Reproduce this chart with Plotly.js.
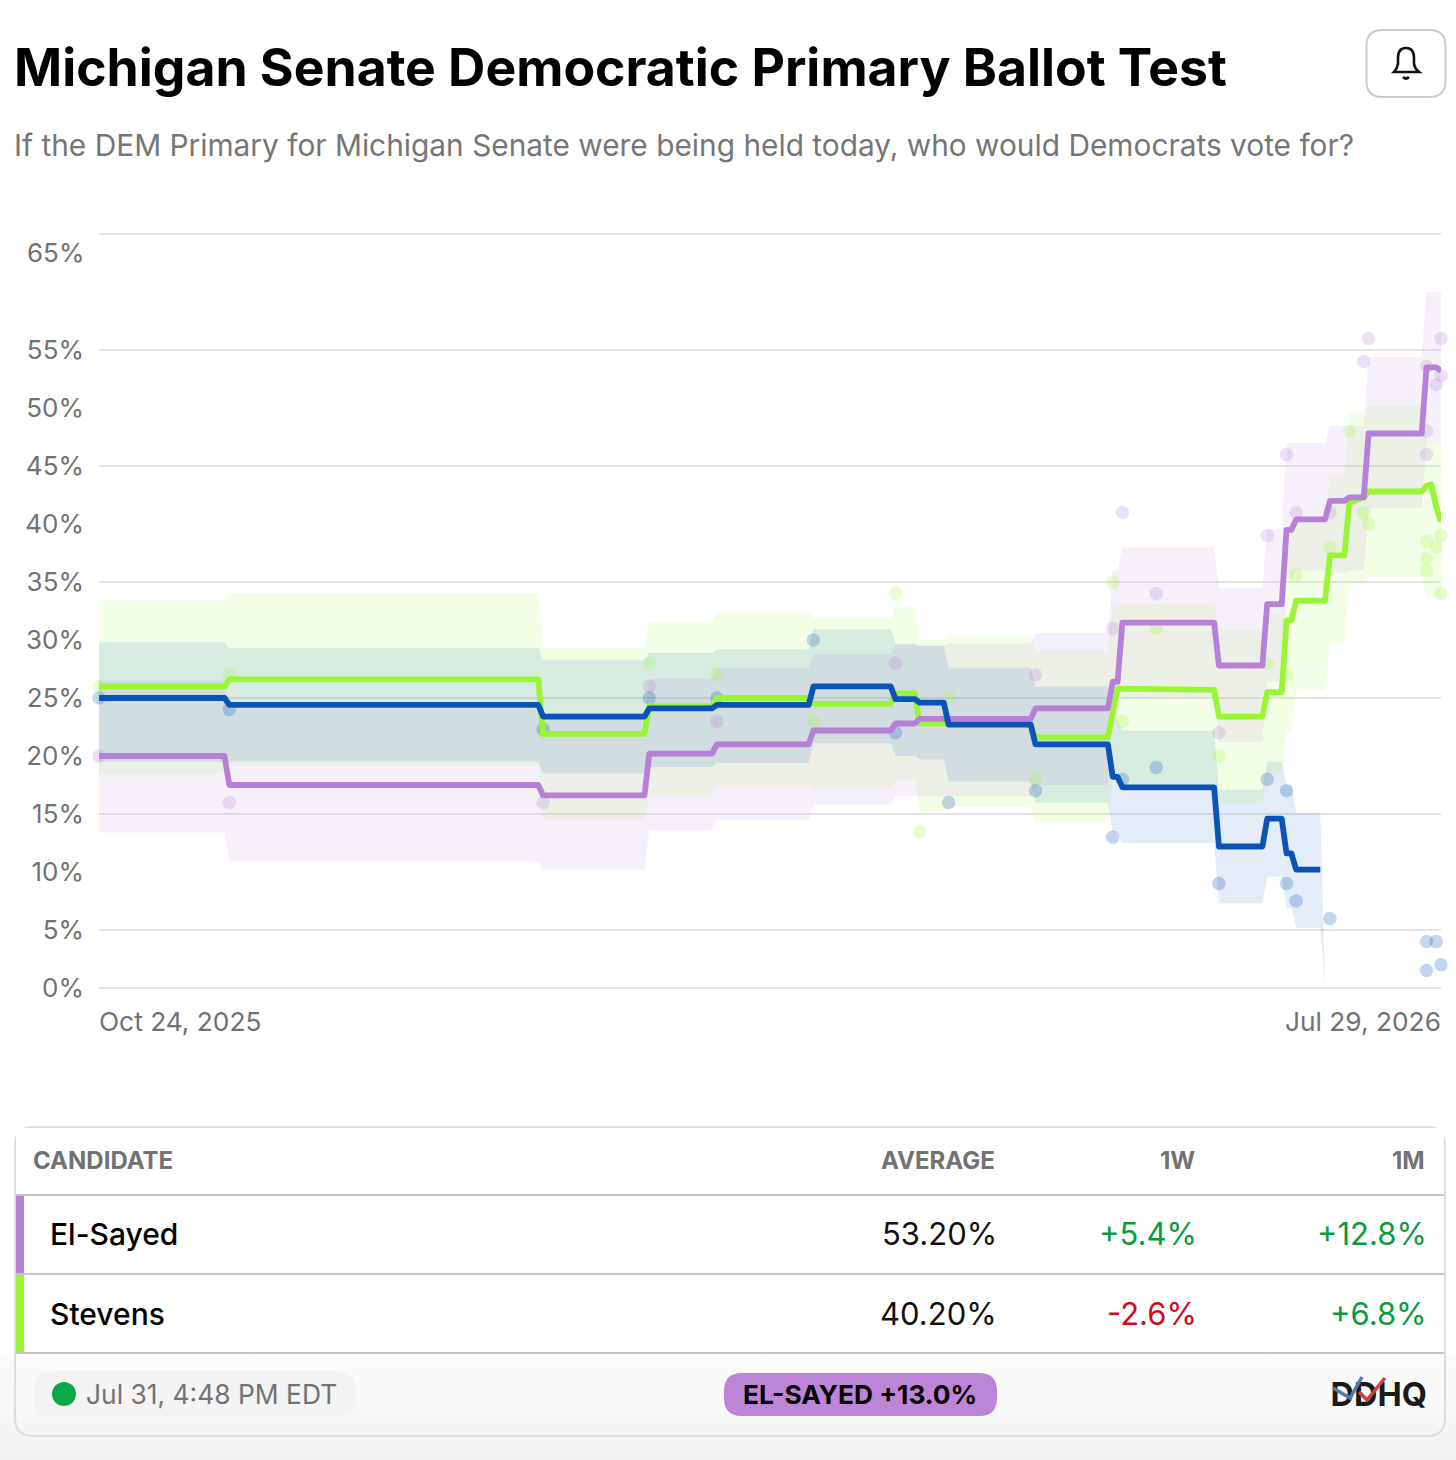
<!DOCTYPE html>
<html>
<head>
<meta charset="utf-8">
<script src="https://cdn.plot.ly/plotly-3.0.1.min.js"></script>
<style>
html, body { margin: 0; padding: 0; }
body { width: 1456px; height: 1460px; overflow: hidden; background: linear-gradient(#fff 1350px, #fbfbfb 1360px, #f8f8f8 1415px, #f0f0f0 1460px); }
#chart { width: 1456px; height: 1460px; }
.js-line { stroke-linejoin: round; }
svg text { font-variant-numeric: tabular-nums; }
</style>
</head>
<body>
<div id="chart"></div>
<script>
var W = 1456, H = 1460;
var FONT = 'Inter, "Noto Sans", sans-serif';

var purple = '#b580d6', green = '#99f536', blue = '#0a54b8';

// average lines
var stevensDates = ['2025-10-24','2025-11-19','2025-11-20','2026-01-23','2026-01-24','2026-02-14','2026-02-15','2026-02-28','2026-03-01','2026-03-20','2026-03-21','2026-04-06','2026-04-07','2026-04-11','2026-04-12','2026-05-05','2026-05-06','2026-05-21','2026-05-23','2026-06-12','2026-06-13','2026-06-22','2026-06-23','2026-06-26','2026-06-27','2026-06-28','2026-06-29','2026-07-05','2026-07-06','2026-07-09','2026-07-10','2026-07-13','2026-07-14','2026-07-25','2026-07-26','2026-07-27','2026-07-28','2026-07-29'];
var stevensAvg = [26,26,26.6,26.6,21.9,21.9,24.3,24.3,25,25,24.5,24.5,25.4,25.4,22.8,22.8,21.6,21.6,25.8,25.7,23.4,23.4,25.5,25.5,31.7,31.7,33.4,33.4,37.3,37.3,41.8,42.3,42.8,42.8,43.3,43.4,41.5,40.2];

var elSayedDates = ['2025-10-24','2025-11-19','2025-11-20','2026-01-23','2026-01-24','2026-02-14','2026-02-15','2026-02-28','2026-03-01','2026-03-20','2026-03-21','2026-04-06','2026-04-07','2026-04-11','2026-04-12','2026-05-05','2026-05-06','2026-05-21','2026-05-22','2026-05-23','2026-05-24','2026-06-12','2026-06-13','2026-06-22','2026-06-23','2026-06-26','2026-06-27','2026-06-28','2026-06-29','2026-07-05','2026-07-06','2026-07-09','2026-07-10','2026-07-13','2026-07-14','2026-07-25','2026-07-26','2026-07-28','2026-07-29'];
var elSayedAvg = [20,20,17.5,17.5,16.6,16.6,20.2,20.2,21,21,22.2,22.2,22.8,22.8,23.2,23.2,24.1,24.1,26.4,26.4,31.5,31.5,27.8,27.8,33.1,33.1,39.5,39.5,40.4,40.4,42,42,42.3,42.3,47.8,47.8,53.5,53.5,53.2];

var blueDates = ['2025-10-24','2025-11-19','2025-11-20','2026-01-23','2026-01-24','2026-02-14','2026-02-15','2026-02-28','2026-03-01','2026-03-20','2026-03-21','2026-04-06','2026-04-07','2026-04-11','2026-04-12','2026-04-17','2026-04-18','2026-05-05','2026-05-06','2026-05-21','2026-05-22','2026-05-23','2026-05-24','2026-06-12','2026-06-13','2026-06-22','2026-06-23','2026-06-26','2026-06-27','2026-06-28','2026-06-29','2026-07-04'];
var blueAvg = [25,25,24.4,24.4,23.4,23.4,24.1,24.1,24.4,24.4,26,26,24.9,24.9,24.6,24.6,22.7,22.7,21,21,18.2,18.2,17.3,17.3,12.2,12.2,14.6,14.6,11.6,11.6,10.2,10.2];

// shaded ranges, one value per segment
var segStart = ['2025-10-24','2025-11-20','2026-01-24','2026-02-15','2026-03-01','2026-03-21','2026-04-07','2026-04-12','2026-04-18','2026-05-06','2026-05-22','2026-05-24','2026-06-13','2026-06-23','2026-06-27','2026-06-29','2026-07-05','2026-07-06','2026-07-10','2026-07-14','2026-07-26'];
var segEnd = ['2025-11-19','2026-01-23','2026-02-14','2026-02-28','2026-03-20','2026-04-06','2026-04-11','2026-04-17','2026-05-05','2026-05-21','2026-05-23','2026-06-12','2026-06-22','2026-06-26','2026-06-28','2026-07-04','2026-07-05','2026-07-09','2026-07-13','2026-07-25','2026-07-29'];
var stevensHigh = [33.4,34.05,29.3,31.55,32.4,31.9,32.9,30,30.4,29.1,33,33.1,30.9,32.3,39.7,40.3,40.3,44.1,49.6,50.2,47];
var stevensLow = [18.5,19.2,14.5,16.6,17.5,17.2,17.9,15.2,15.6,14.3,18,17.1,15.9,18.5,22.2,25.7,25.7,29.7,34.9,35.4,33.7];
var elSayedHigh = [26.5,24.1,23.7,26.7,27.6,28.8,29.6,29.5,29.7,30.6,36,38,34.5,39.6,47,47,47,48.5,48.5,54.4,60];
var elSayedLow = [13.4,10.9,10.2,13.6,14.5,15.8,16.5,16.5,16.5,17.5,26,25,21.2,26.4,35.2,36,36,35.8,36,41.4,47];
var blueHigh = [29.8,29.3,28.3,28.9,29.2,30.9,29.7,29.5,27.6,26,23.1,22.2,17.1,19.5,17.5,15.1,0];
var blueLow = [19.5,19.5,18.5,19.05,19.4,21.1,20,19.7,17.8,16,13.4,12.5,7.3,9.6,6.9,5.2,0];

// individual polls
var stevensPollDates = ['2025-10-24','2025-11-20','2026-01-24','2026-02-15','2026-03-01','2026-03-21','2026-04-07','2026-04-12','2026-04-18','2026-05-06','2026-05-22','2026-05-24','2026-05-31','2026-06-13','2026-06-23','2026-06-27','2026-06-29','2026-07-06','2026-07-10','2026-07-13','2026-07-14','2026-07-26','2026-07-26','2026-07-26','2026-07-28','2026-07-29','2026-07-29'];
var stevensPolls = [26,27,22,28,27,23,34,13.5,25,18,35,23,31,20,28,27,35.6,38,48,41,40,38.5,37,36,38,39,34];
var elSayedPollDates = ['2025-10-24','2025-11-20','2026-01-24','2026-02-15','2026-03-01','2026-04-07','2026-05-06','2026-05-22','2026-05-24','2026-05-31','2026-06-13','2026-06-23','2026-06-27','2026-06-29','2026-07-06','2026-07-13','2026-07-14','2026-07-26','2026-07-26','2026-07-26','2026-07-28','2026-07-29','2026-07-29'];
var elSayedPolls = [20,16,16,26,23,28,27,31,41,34,22,39,46,41,41,54,56,53.6,48,46,52,56,52.8];
var bluePollDates = ['2025-10-24','2025-11-20','2026-01-24','2026-02-15','2026-03-01','2026-03-21','2026-04-07','2026-04-18','2026-05-06','2026-05-22','2026-05-24','2026-05-31','2026-06-13','2026-06-23','2026-06-27','2026-06-27','2026-06-29','2026-07-06','2026-07-26','2026-07-28','2026-07-26','2026-07-29'];
var bluePolls = [25,24,22.3,25,25,30,22,16,17,13,18,19,9,18,17,9,7.5,6,4,4,1.5,2];

// axes
var yTickVals = [0,5,10,15,20,25,30,35,40,45,50,55];
var yTickText = ['0%','5%','10%','15%','20%','25%','30%','35%','40%','45%','50%','55%'];
var gridVals = [0,5,15,25,35,45,55,65];
var xStart = '2025-10-24', xEnd = '2026-07-29';

// table
var candidates = ['El-Sayed','Stevens'];
var averages = ['53.20%','40.20%'];
var oneWeek = ['+5.4%','-2.6%'];
var oneMonth = ['+12.8%','+6.8%'];
var rowColors = [purple, green];

function px(x) { return x / W; }
function py(y) { return 1 - y / H; }

function band(hi, lo, color) {
  var xs = [], top = [], bottom = [];
  for (var i = 0; i < hi.length; i++) {
    xs.push(segStart[i], segEnd[i]);
    top.push(hi[i], hi[i]);
    bottom.push(lo[i], lo[i]);
  }
  return {
    x: xs.concat(xs.slice().reverse()),
    y: top.concat(bottom.reverse()),
    type: 'scatter', mode: 'lines', fill: 'toself', fillcolor: color,
    line: {width: 0}, hoverinfo: 'skip', showlegend: false
  };
}
function polls(x, y, color) {
  return {x: x, y: y, type: 'scatter', mode: 'markers', cliponaxis: false,
    marker: {size: 13.5, color: color, opacity: 0.24, line: {width: 0}}, showlegend: false};
}
function avgLine(x, y, color) {
  return {x: x, y: y, type: 'scatter', mode: 'lines', cliponaxis: false,
    line: {color: color, width: 5.8}, showlegend: false};
}

var data = [
  band(stevensHigh, stevensLow, 'rgba(153,245,54,0.12)'),
  band(elSayedHigh, elSayedLow, 'rgba(181,128,214,0.12)'),
  band(blueHigh, blueLow, 'rgba(10,84,184,0.115)'),
  polls(stevensPollDates, stevensPolls, green),
  polls(elSayedPollDates, elSayedPolls, purple),
  polls(bluePollDates, bluePolls, blue),
  avgLine(stevensDates, stevensAvg, green),
  avgLine(elSayedDates, elSayedAvg, purple),
  avgLine(blueDates, blueAvg, blue),
  // logo wordmark sits in a hidden page-sized subplot so the check marks can go over it
  {x: [1427], y: [1398], xaxis: 'x2', yaxis: 'y2', type: 'scatter', mode: 'text', text: ['DDHQ'],
    textposition: 'middle left', cliponaxis: false, showlegend: false,
    textfont: {family: FONT, size: 32.5, color: '#1a1a1a', weight: 700}}
];

function label(text, x, y, size, color, anchor, weight) {
  return {text: text, x: px(x), y: py(y), xref: 'paper', yref: 'paper', showarrow: false,
    xanchor: anchor || 'left', yanchor: 'middle', borderpad: 0, borderwidth: 0,
    font: {family: FONT, size: size, color: color, weight: weight || 400}};
}
function rect(x0, y0, x1, y1, color) {
  return {type: 'rect', xref: 'paper', yref: 'paper', x0: px(x0), x1: px(x1), y0: py(y0), y1: py(y1),
    fillcolor: color, line: {width: 0}, layer: 'below'};
}
function hline(x0, x1, y, color, width) {
  return {type: 'line', xref: 'paper', yref: 'paper', x0: px(x0), x1: px(x1), y0: py(y), y1: py(y),
    line: {color: color, width: width}, layer: 'below'};
}
function pts(list) {
  var s = '';
  list.forEach(function (p) {
    s += p[0];
    for (var i = 1; i < p.length; i += 2) s += ' ' + px(p[i]) + ',' + py(p[i + 1]);
    s += ' ';
  });
  return s;
}
function roundBox(x0, y0, x1, y1, r, fill, stroke, strokeW) {
  return {type: 'path', xref: 'paper', yref: 'paper', layer: 'below', fillcolor: fill,
    line: {color: stroke || 'rgba(0,0,0,0)', width: strokeW || 0},
    path: pts([['M', x0 + r, y0], ['L', x1 - r, y0], ['Q', x1, y0, x1, y0 + r], ['L', x1, y1 - r],
      ['Q', x1, y1, x1 - r, y1], ['L', x0 + r, y1], ['Q', x0, y1, x0, y1 - r], ['L', x0, y0 + r],
      ['Q', x0, y0, x0 + r, y0]]) + 'Z'};
}
function stroke(points, color, width) {
  var list = [['M', points[0][0], points[0][1]]];
  for (var i = 1; i < points.length; i++) list.push(['L', points[i][0], points[i][1]]);
  return {type: 'path', xref: 'paper', yref: 'paper', path: pts(list), line: {color: color, width: width}};
}

var gray = '#727272';
var annotations = [
  label('If the DEM Primary for Michigan Senate were being held today, who would Democrats vote for?', 14, 145, 29.85, '#767676'),
  label('65%', 84, 253, 26, gray, 'right'),
  {text: 'Oct 24, 2025', x: xStart, y: py(1021), xref: 'x', yref: 'paper', showarrow: false, xanchor: 'left', yanchor: 'middle',
    borderpad: 0, borderwidth: 0, font: {family: FONT, size: 26.3, color: gray}},
  {text: 'Jul 29, 2026', x: xEnd, y: py(1021), xref: 'x', yref: 'paper', showarrow: false, xanchor: 'right', yanchor: 'middle',
    borderpad: 0, borderwidth: 0, font: {family: FONT, size: 26.3, color: gray}},
  label('CANDIDATE', 33, 1160, 24, gray, 'left', 700),
  label('AVERAGE', 995, 1160, 24, gray, 'right', 700),
  label('1W', 1195, 1160, 24, gray, 'right', 700),
  label('1M', 1425, 1160, 24, gray, 'right', 700),
  label('Jul 31, 4:48 PM EDT', 86, 1394, 26.4, gray),
  label('EL-SAYED +13.0%', 860, 1394.5, 26.3, '#000', 'center', 700)
];

var shapes = [
  roundBox(1366.5, 30, 1445.5, 97, 16, '#fff', '#cbcbcb', 2),
  roundBox(15, 1127, 1445, 1436, 18, 'rgba(0,0,0,0)', '#dcdcdc', 2),
  rect(16, 1128, 1444, 1353, '#fff'),
  hline(16, 1444, 1195, '#c6c6c6', 2),
  hline(16, 1444, 1274, '#c6c6c6', 2),
  hline(16, 1444, 1353, '#c6c6c6', 2),
  roundBox(33, 1371, 356, 1417, 20, '#f4f4f4'),
  {type: 'circle', xref: 'paper', yref: 'paper', x0: px(52), x1: px(76), y0: py(1406), y1: py(1382), fillcolor: '#0aa84a', line: {width: 0}},
  roundBox(724, 1373, 997, 1416, 18, '#bd84d8'),
  stroke([[1333, 1388], [1350, 1398], [1362, 1377]], '#4a7fb0', 3.5),
  stroke([[1359, 1392], [1367, 1400], [1385, 1378]], '#d33d35', 3.5),
  // bell icon
  {type: 'path', xref: 'paper', yref: 'paper', line: {color: '#111', width: 2.6}, fillcolor: 'rgba(0,0,0,0)',
    path: pts([['M', 1394, 72], ['Q', 1397, 69, 1398, 64], ['L', 1398, 58], ['Q', 1398, 48, 1406, 48], ['Q', 1414, 48, 1414, 58],
      ['L', 1414, 64], ['Q', 1415, 69, 1419, 72], ['L', 1394, 72]]) + 'Z'},
  {type: 'path', xref: 'paper', yref: 'paper', line: {color: '#111', width: 2.6}, path: pts([['M', 1403, 77], ['Q', 1406, 80, 1409, 77]])}
];

candidates.forEach(function (name, i) {
  var mid = 1233.5 + i * 80;
  shapes.push(rect(16, 1196 + i * 79, 24, 1273 + i * 79, rowColors[i]));
  annotations.push(label(name, 50, mid, 30, '#000', 'left', 500));
  annotations.push(label(averages[i], 996.5, mid, 31, '#111', 'right'));
  annotations.push(label(oneWeek[i], 1196.5, mid, 31, oneWeek[i].charAt(0) === '+' ? '#0a9b3c' : '#cf0a1e', 'right'));
  annotations.push(label(oneMonth[i], 1426.5, mid, 31, oneMonth[i].charAt(0) === '+' ? '#0a9b3c' : '#cf0a1e', 'right'));
});

var layout = {
  width: W, height: H,
  margin: {l: 0, r: 0, t: 0, b: 0},
  paper_bgcolor: 'rgba(0,0,0,0)',
  plot_bgcolor: 'rgba(0,0,0,0)',
  showlegend: false,
  title: {
    text: 'Michigan Senate Democratic Primary Ballot Test',
    x: px(14), xanchor: 'left', xref: 'container',
    y: py(68), yanchor: 'middle', yref: 'container',
    font: {family: FONT, size: 51.7, color: '#000', weight: 700}
  },
  xaxis: {
    type: 'date', domain: [px(99), px(1441)], range: [xStart, xEnd],
    showgrid: false, zeroline: false, showline: false, showticklabels: false, ticks: ''
  },
  // the range runs a hair past 0 and 65 so those two gridlines still get drawn
  yaxis: {
    domain: [py(990.32), py(231.68)], range: [-0.2, 65.2],
    tickmode: 'array', tickvals: yTickVals, ticktext: yTickText,
    ticks: '', ticklabelstandoff: 14, showgrid: false, zeroline: false, showline: false,
    tickfont: {family: FONT, size: 26, color: gray},
    minor: {tickmode: 'array', tickvals: gridVals, showgrid: true, gridcolor: '#e4e4e4', gridwidth: 2, ticks: ''}
  },
  xaxis2: {domain: [0, 1], range: [0, W], visible: false, anchor: 'y2'},
  yaxis2: {domain: [0, 1], range: [H, 0], visible: false, anchor: 'x2'},
  shapes: shapes,
  annotations: annotations
};

Plotly.newPlot('chart', data, layout, {displayModeBar: false, staticPlot: true});
</script>
</body>
</html>
